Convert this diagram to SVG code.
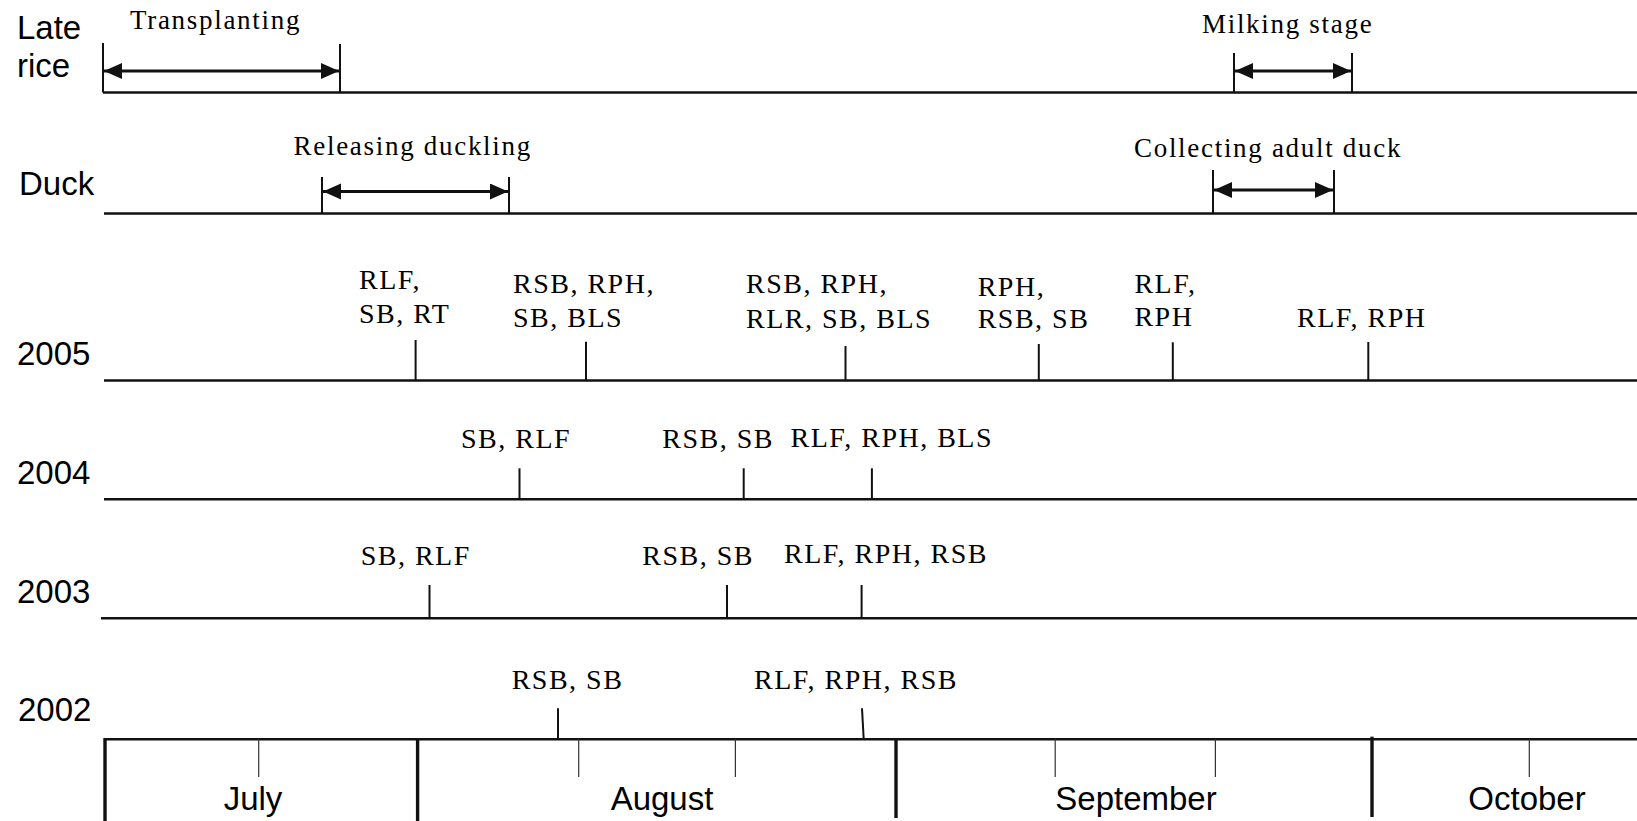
<svg xmlns="http://www.w3.org/2000/svg" width="1637" height="821" viewBox="0 0 1637 821">
<style>
  .ln { stroke: #111; stroke-width: 2.6; fill: none; }
  .tk { stroke: #111; stroke-width: 2; fill: none; }
  .thin { stroke: #333; stroke-width: 1.2; fill: none; }
  .thick { stroke: #111; stroke-width: 3.4; fill: none; }
  .arr { stroke: #111; stroke-width: 3; fill: none; marker-start: url(#ah); marker-end: url(#ah); }
  .lab { font-family: "Liberation Sans", Arial, sans-serif; font-size: 33px; fill: #000; }
  .ev { font-family: "Liberation Serif", "Times New Roman", serif; font-size: 28px; letter-spacing: 1.5px; fill: #000; }
  .top { font-family: "Liberation Serif", "Times New Roman", serif; font-size: 27px; letter-spacing: 1.7px; fill: #000; }
  .mo { font-family: "Liberation Sans", Arial, sans-serif; font-size: 33px; fill: #000; text-anchor: middle; }
</style>
<defs>
  <marker id="ah" markerUnits="userSpaceOnUse" markerWidth="20" markerHeight="18" refX="18" refY="8" orient="auto-start-reverse">
    <path d="M0,0 L18,8 L0,16 Z" fill="#111"/>
  </marker>
</defs>
<rect width="1637" height="821" fill="#fff"/>

<g id="row-late-rice">
  <text class="lab" x="17" y="39">Late</text>
  <text class="lab" x="17" y="77">rice</text>
  <text class="top" x="130" y="29">Transplanting</text>
  <text class="top" x="1202" y="33">Milking stage</text>
</g>
<g id="row-duck">
  <text class="lab" x="19" y="195">Duck</text>
  <text class="top" x="293.6" y="155">Releasing duckling</text>
  <text class="top" x="1134" y="156.7">Collecting adult duck</text>
</g>
<g id="row-2005">
  <text class="lab" x="17" y="364.5">2005</text>
  <text class="ev" x="359" y="289">RLF,</text>
  <text class="ev" x="359" y="322.7">SB, RT</text>
  <text class="ev" x="513" y="292.7">RSB, RPH,</text>
  <text class="ev" x="513" y="327.3">SB, BLS</text>
  <text class="ev" x="746" y="293.3">RSB, RPH,</text>
  <text class="ev" x="746" y="328.3">RLR, SB, BLS</text>
  <text class="ev" x="977.7" y="296">RPH,</text>
  <text class="ev" x="977.7" y="328.3">RSB, SB</text>
  <text class="ev" x="1134.4" y="292.7">RLF,</text>
  <text class="ev" x="1134.4" y="326">RPH</text>
  <text class="ev" x="1297" y="326.7">RLF, RPH</text>
</g>
<g id="row-2004">
  <text class="lab" x="17" y="483.5">2004</text>
  <text class="ev" x="461" y="448">SB, RLF</text>
  <text class="ev" x="662.3" y="448.3">RSB, SB</text>
  <text class="ev" x="790.6" y="446.7">RLF, RPH, BLS</text>
</g>
<g id="row-2003">
  <text class="lab" x="17" y="603">2003</text>
  <text class="ev" x="360.7" y="565">SB, RLF</text>
  <text class="ev" x="642.3" y="565">RSB, SB</text>
  <text class="ev" x="784" y="563.3">RLF, RPH, RSB</text>
</g>
<g id="row-2002">
  <text class="lab" x="18" y="721">2002</text>
  <text class="ev" x="511.7" y="689">RSB, SB</text>
  <text class="ev" x="754" y="689">RLF, RPH, RSB</text>
</g>
<g id="months">
  <text class="mo" x="253" y="810">July</text>
  <text class="mo" x="662" y="810">August</text>
  <text class="mo" x="1136" y="810">September</text>
  <text class="mo" x="1527" y="810">October</text>
</g>

<g id="connectors">
  <line class="ln" x1="103" y1="92.5" x2="1637" y2="92.5"/>
  <line class="ln" x1="104" y1="213.5" x2="1637" y2="213.5"/>
  <line class="ln" x1="104" y1="380.5" x2="1637" y2="380.5"/>
  <line class="ln" x1="104" y1="499.3" x2="1637" y2="499.3"/>
  <line class="ln" x1="101" y1="618.3" x2="1637" y2="618.3"/>
  <line class="ln" x1="105" y1="739.3" x2="1637" y2="739.3"/>
  <line class="tk" x1="103" y1="43" x2="103" y2="92.5"/>
  <line class="tk" x1="340" y1="44" x2="340" y2="92.5"/>
  <line class="arr" x1="104" y1="71" x2="339" y2="71"/>
  <line class="tk" x1="1234" y1="53" x2="1234" y2="93"/>
  <line class="tk" x1="1352" y1="53" x2="1352" y2="93"/>
  <line class="arr" x1="1235" y1="71" x2="1351" y2="71"/>
  <line class="tk" x1="322" y1="177" x2="322" y2="213.5"/>
  <line class="tk" x1="509" y1="177" x2="509" y2="213.5"/>
  <line class="arr" x1="323" y1="191.5" x2="508" y2="191.5"/>
  <line class="tk" x1="1213" y1="170" x2="1213" y2="213.5"/>
  <line class="tk" x1="1334" y1="170" x2="1334" y2="213.5"/>
  <line class="arr" x1="1214" y1="190" x2="1333" y2="190"/>
  <line class="tk" x1="415.6" y1="340" x2="415.6" y2="380.5"/>
  <line class="tk" x1="586" y1="341.7" x2="586" y2="380.5"/>
  <line class="tk" x1="845.5" y1="346" x2="845.5" y2="380.5"/>
  <line class="tk" x1="1038.8" y1="344" x2="1038.8" y2="380.5"/>
  <line class="tk" x1="1172.8" y1="342.3" x2="1172.8" y2="380.5"/>
  <line class="tk" x1="1368.3" y1="342" x2="1368.3" y2="380.5"/>
  <line class="tk" x1="519.5" y1="468.3" x2="519.5" y2="499.3"/>
  <line class="tk" x1="743.7" y1="468.3" x2="743.7" y2="499.3"/>
  <line class="tk" x1="871.9" y1="468.3" x2="871.9" y2="499.3"/>
  <line class="tk" x1="429.5" y1="585" x2="429.5" y2="618.3"/>
  <line class="tk" x1="727" y1="585" x2="727" y2="618.3"/>
  <line class="tk" x1="861.6" y1="585" x2="861.6" y2="618.3"/>
  <line class="tk" x1="558" y1="708.3" x2="558" y2="739.3"/>
  <line class="tk" x1="862" y1="708.3" x2="863.7" y2="739.3"/>
  <line class="thick" x1="105" y1="738" x2="105" y2="821"/>
  <line class="thick" x1="417.6" y1="738" x2="417.6" y2="821"/>
  <line class="thick" x1="896" y1="738" x2="896" y2="818"/>
  <line class="thick" x1="1372" y1="736.7" x2="1372" y2="817"/>
  <line class="thin" x1="258.7" y1="739" x2="258.7" y2="777"/>
  <line class="thin" x1="578.7" y1="739" x2="578.7" y2="777"/>
  <line class="thin" x1="735.4" y1="739" x2="735.4" y2="777"/>
  <line class="thin" x1="1055.2" y1="739" x2="1055.2" y2="777"/>
  <line class="thin" x1="1215.4" y1="739" x2="1215.4" y2="777"/>
  <line class="thin" x1="1529.3" y1="739" x2="1529.3" y2="777"/>
</g>
</svg>
